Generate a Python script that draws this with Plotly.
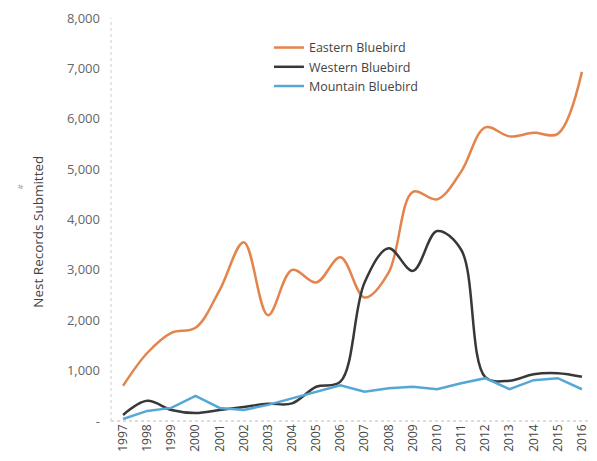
import plotly.graph_objects as go

years = list(range(1997, 2017))
eastern = [700, 1350, 1750, 1850, 2600, 3550, 2100, 3000, 2750, 3250,
           2450, 2950, 4550, 4400, 4950, 5830, 5650, 5720, 5700, 6930]
western = [120, 400, 220, 160, 220, 280, 340, 350, 680, 780,
           2750, 3430, 2980, 3770, 3400, 870, 800, 930, 950, 880]
mountain = [40, 200, 260, 500, 260, 220, 320, 450, 580, 710,
            580, 650, 680, 630, 750, 850, 630, 810, 850, 630]

y_ticks = [0, 1000, 2000, 3000, 4000, 5000, 6000, 7000, 8000]
y_labels = ["-", "1,000", "2,000", "3,000", "4,000", "5,000", "6,000", "7,000", "8,000"]

fig = go.Figure()
fig.add_trace(go.Scatter(x=years, y=eastern, name="Eastern Bluebird", mode="lines",
                         line=dict(color="#E3844C", width=2.5, shape="spline", smoothing=1.0)))
fig.add_trace(go.Scatter(x=years, y=western, name="Western Bluebird", mode="lines",
                         line=dict(color="#383838", width=2.5, shape="spline", smoothing=1.0)))
fig.add_trace(go.Scatter(x=years, y=mountain, name="Mountain Bluebird", mode="lines",
                         line=dict(color="#55A7D6", width=2.5)))

font_family = "Open Sans, Liberation Sans, Arial, sans-serif"

# page body has an 8px default margin, so the figure is sized to fit the window
fig.update_layout(
    width=589, height=453,
    margin=dict(l=103, r=3, t=10, b=40, autoexpand=False),
    paper_bgcolor="white", plot_bgcolor="white",
    font=dict(family=font_family, color="#555555", size=11),
    showlegend=True,
    legend=dict(x=0.327, y=0.963, xanchor="left", yanchor="top",
                bgcolor="rgba(0,0,0,0)", font=dict(size=12.5, color="#444444"),
                itemwidth=30, tracegroupgap=0),
    xaxis=dict(range=[1996.5, 2016.5], tickmode="array", tickvals=years,
               ticktext=[str(y) for y in years], tickangle=-90, automargin=False,
               showgrid=False, zeroline=False, showline=False, ticks="",
               tickfont=dict(size=12, color="#444444")),
    yaxis=dict(range=[0, 8000], tickmode="array", tickvals=y_ticks, ticktext=y_labels,
               showgrid=False, zeroline=False, showline=False, ticks="", automargin=False,
               ticklabelstandoff=10, tickfont=dict(size=13, color="#666666")),
    shapes=[
        dict(type="line", xref="paper", yref="paper", x0=0, x1=1, y0=0, y1=0,
             line=dict(color="#bbbbbb", width=1, dash="dot")),
        dict(type="line", xref="paper", yref="paper", x0=0, x1=0, y0=0, y1=1,
             line=dict(color="#cccccc", width=1, dash="dot")),
    ],
    annotations=[
        dict(text="Nest Records Submitted", xref="paper", yref="paper",
             x=-0.153, y=0.47, xanchor="center", yanchor="middle", textangle=-90,
             showarrow=False, font=dict(size=13.5, color="#444444")),
        dict(text="#", xref="paper", yref="paper", x=-0.19, y=0.58,
             xanchor="center", yanchor="middle", textangle=-90,
             showarrow=False, font=dict(size=8, color="#999999")),
    ],
)

fig.write_html("out.html")
